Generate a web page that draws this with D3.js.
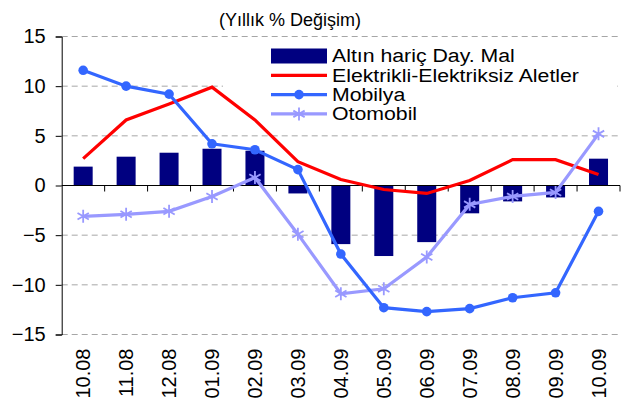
<!DOCTYPE html>
<meta charset="utf-8">
<script src="https://d3js.org/d3.v7.min.js"></script>
<style>
body { margin: 0; background: #fff; }
text { font-family: "Liberation Sans", Arial, sans-serif; fill: #000; }
</style>
<body>
<script>

// months on the x axis
var months = ["10.08","11.08","12.08","01.09","02.09","03.09","04.09","05.09","06.09","07.09","08.09","09.09","10.09"];

// series
var altinHaric = [1.9, 2.9, 3.3, 3.7, 3.5, -0.8, -5.9, -7.1, -5.7, -2.8, -1.6, -1.2, 2.7];
var elektrikli = [2.7, 6.6, 8.2, 9.9, 6.6, 2.4, 0.6, -0.4, -0.8, 0.5, 2.6, 2.6, 1.1];
var mobilya    = [11.6, 10.0, 9.2, 4.2, 3.6, 1.6, -6.9, -12.3, -12.7, -12.4, -11.3, -10.8, -2.6];
var otomobil   = [-3.1, -2.9, -2.6, -1.1, 0.8, -4.9, -10.9, -10.4, -7.2, -1.9, -1.1, -0.7, 5.2];

var yTicks = [-15, -10, -5, 0, 5, 10, 15];
var legendNames = ["Altın hariç Day. Mal", "Elektrikli-Elektriksiz Aletler", "Mobilya", "Otomobil"];
var title = "(Yıllık % Değişim)";

var width = 631, height = 408;
var margin = {top: 36.5, right: 11, bottom: 73.5, left: 61.7};

var svg = d3.select("body").append("svg")
    .attr("width", width)
    .attr("height", height);

var x = d3.scaleBand().domain(months)
    .range([margin.left, width - margin.right]);
var y = d3.scaleLinear().domain([-15, 15])
    .range([height - margin.bottom, margin.top]);

var colors = {bar: "#000080", red: "#ff0000", mob: "#3366ff", oto: "#9999ff"};

// grid lines
svg.append("g").selectAll("line")
    .data(yTicks.filter(function(d) { return d != 0; }))
    .enter().append("line")
    .attr("x1", margin.left)
    .attr("x2", width - margin.right)
    .attr("y1", function(d) { return y(d); })
    .attr("y2", function(d) { return y(d); })
    .attr("stroke", "#a6a6a6")
    .attr("stroke-dasharray", "6,4");

// legend background hides part of the grid
var lg = {x: 271, y: 56, dy: 19.3};
svg.append("rect")
    .attr("x", 223).attr("y", 42)
    .attr("width", 394).attr("height", 50)
    .attr("fill", "#fff");

// y axis
var yAxis = d3.axisLeft(y).tickValues(yTicks).tickSize(6).tickPadding(10);
var gy = svg.append("g")
    .attr("transform", "translate(" + margin.left + ",0)")
    .call(yAxis);
gy.select(".domain").attr("stroke", "#000");
gy.selectAll("text")
    .style("font-size", "20px")
    .style("font-family", "'Liberation Sans', Arial, sans-serif");

// bars
svg.append("g").selectAll("rect")
    .data(altinHaric)
    .enter().append("rect")
    .attr("x", function(d, i) { return x(months[i]) + x.bandwidth() / 2 - 9.5; })
    .attr("width", 19)
    .attr("y", function(d) { return d > 0 ? y(d) : y(0); })
    .attr("height", function(d) { return Math.abs(y(d) - y(0)); })
    .attr("fill", colors.bar);

// x axis at zero
svg.append("line")
    .attr("x1", margin.left).attr("x2", width - margin.right)
    .attr("y1", y(0)).attr("y2", y(0))
    .attr("stroke", "#000");
svg.append("g").selectAll("line")
    .data(d3.range(1, months.length + 1))
    .enter().append("line")
    .attr("x1", function(i) { return margin.left + i * x.step(); })
    .attr("x2", function(i) { return margin.left + i * x.step(); })
    .attr("y1", y(0)).attr("y2", y(0) + 6)
    .attr("stroke", "#000");

svg.append("g").selectAll("text")
    .data(months)
    .enter().append("text")
    .attr("transform", function(d) {
        return "translate(" + (x(d) + x.bandwidth() / 2) + "," + (height - margin.bottom + 14) + ") rotate(-90)";
    })
    .attr("text-anchor", "end")
    .attr("dy", "0.35em")
    .style("font-size", "20px")
    .text(function(d) { return d; });

// lines
var line = d3.line()
    .x(function(d, i) { return x(months[i]) + x.bandwidth() / 2; })
    .y(function(d) { return y(d); });

svg.append("path").datum(elektrikli)
    .attr("d", line).attr("fill", "none")
    .attr("stroke", colors.red).attr("stroke-width", 3.2);

svg.append("path").datum(otomobil)
    .attr("d", line).attr("fill", "none")
    .attr("stroke", colors.oto).attr("stroke-width", 3.2);

var star = function(cx, cy, r) {
    return "M" + cx + "," + (cy - r) + "L" + cx + "," + (cy + r) +
        "M" + (cx - r * 0.87) + "," + (cy - r * 0.5) + "L" + (cx + r * 0.87) + "," + (cy + r * 0.5) +
        "M" + (cx - r * 0.87) + "," + (cy + r * 0.5) + "L" + (cx + r * 0.87) + "," + (cy - r * 0.5);
};
svg.append("g").selectAll("path")
    .data(otomobil)
    .enter().append("path")
    .attr("d", function(d, i) { return star(x(months[i]) + x.bandwidth() / 2, y(d), 6.5); })
    .attr("stroke", colors.oto).attr("stroke-width", 1.8).attr("fill", "none");

svg.append("path").datum(mobilya)
    .attr("d", line).attr("fill", "none")
    .attr("stroke", colors.mob).attr("stroke-width", 3.2);
svg.append("g").selectAll("circle")
    .data(mobilya)
    .enter().append("circle")
    .attr("cx", function(d, i) { return x(months[i]) + x.bandwidth() / 2; })
    .attr("cy", function(d) { return y(d); })
    .attr("r", 4.8)
    .attr("fill", colors.mob);

// title
svg.append("text")
    .attr("x", 290).attr("y", 26)
    .attr("text-anchor", "middle")
    .style("font-size", "18px")
    .text(title);

// legend
var legend = svg.selectAll(".legend")
    .data(legendNames)
    .enter().append("g")
    .attr("class", "legend")
    .attr("transform", function(d, i) { return "translate(" + lg.x + "," + (lg.y + i * lg.dy) + ")"; });

legend.filter(function(d, i) { return i == 0; }).append("rect")
    .attr("x", 0).attr("y", -7.5).attr("width", 56).attr("height", 15)
    .attr("fill", colors.bar);
legend.filter(function(d, i) { return i > 0; }).append("line")
    .attr("x1", 0).attr("x2", 56)
    .attr("stroke", function(d, i) { return [colors.red, colors.mob, colors.oto][i]; })
    .attr("stroke-width", 3.2);
legend.filter(function(d, i) { return i == 2; }).append("circle")
    .attr("cx", 28).attr("r", 4.8).attr("fill", colors.mob);
legend.filter(function(d, i) { return i == 3; }).append("path")
    .attr("d", star(28, 0, 6.5))
    .attr("stroke", colors.oto).attr("stroke-width", 1.8);
// the legend font in the picture is a little wider than plain Arial
legend.append("text")
    .attr("transform", "translate(61,0) scale(1.12,1)")
    .attr("dy", "0.33em")
    .style("font-size", "19px")
    .text(function(d) { return d; });

</script>
</body>
